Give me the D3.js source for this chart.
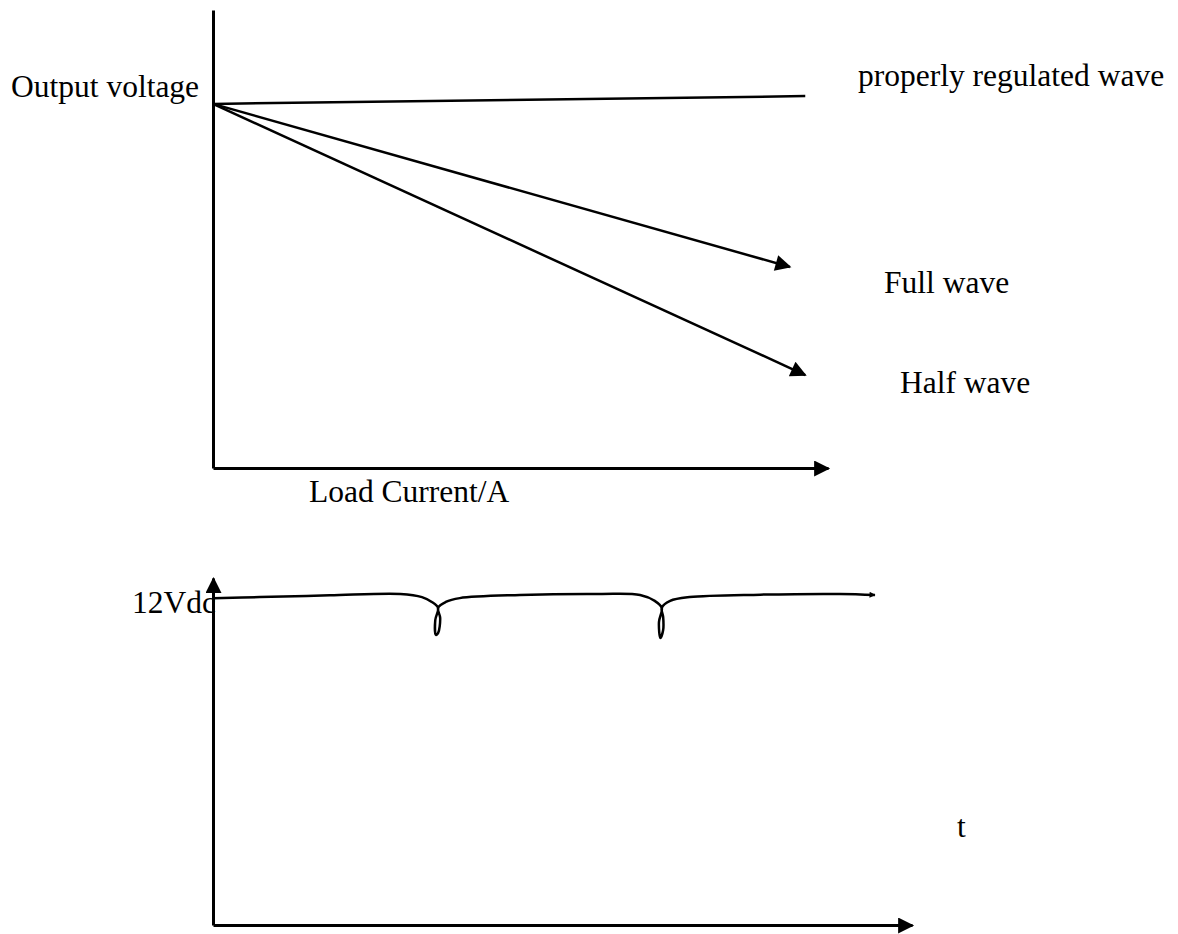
<!DOCTYPE html>
<html>
<head>
<meta charset="utf-8">
<script src="https://cdn.jsdelivr.net/npm/d3@7"></script>
<style>
  body { margin: 0; background: #fff; }
  text { font-family: "Liberation Serif", "Times New Roman", serif; fill: #000; }
</style>
</head>
<body>
<div id="chart"></div>
<script>
// top chart: output voltage vs load current (arbitrary 0-100 units)
var regulated = [[0, 79.5], [96.3, 81.2]];
var fullWave = [[0, 79.5], [93.8, 43.9]];
var halfWave = [[0, 79.5], [96.3, 20.3]];

// bottom chart: 12Vdc output with ripple dips (time, voltage units 0-100)
var ripple = [
    [0, 94.2], [6.7, 94.5], [16.7, 95.0], [26.8, 95.4], [29.9, 94.5], [31.3, 93.1], [32.2, 91.4],
    [31.8, 87.9], [31.9, 83.6], [32.2, 84.1], [32.5, 88.5], [32.2, 91.4],
    [33.3, 93.1], [35.3, 94.2], [43.9, 95.1], [55.4, 95.4], [61.1, 95.1], [63.2, 93.4], [64.2, 91.4],
    [63.8, 87.3], [64.0, 82.7], [64.4, 85.0], [64.4, 88.8], [64.2, 91.4],
    [65.4, 93.4], [68.2, 94.5], [78.3, 95.2], [89.7, 95.4], [94.7, 95.1]
];

var topLabels = [
    {text: "Output voltage", x: 11, y: 97},
    {text: "properly regulated wave", x: 858, y: 86},
    {text: "Full wave", x: 884, y: 293},
    {text: "Half wave", x: 900, y: 393},
    {text: "Load Current/A", x: 309, y: 502}
];
var bottomLabels = [
    {text: "12Vdc", x: 132, y: 613},
    {text: "t", x: 957, y: 837}
];

var svg = d3.select("#chart").append("svg")
    .attr("width", 1178)
    .attr("height", 934);

var defs = svg.append("defs");
defs.append("marker")
    .attr("id", "arrow")
    .attr("viewBox", "0 0 10 10")
    .attr("refX", 9).attr("refY", 5)
    .attr("markerUnits", "userSpaceOnUse")
    .attr("markerWidth", 22).attr("markerHeight", 16)
    .attr("orient", "auto")
    .append("path")
    .attr("d", "M0,0L10,5L0,10z")
    .attr("fill", "#000");
defs.append("marker")
    .attr("id", "tip")
    .attr("viewBox", "0 0 10 10")
    .attr("refX", 9).attr("refY", 5)
    .attr("markerUnits", "userSpaceOnUse")
    .attr("markerWidth", 10).attr("markerHeight", 6)
    .attr("orient", "auto")
    .append("path")
    .attr("d", "M0,0L10,5L0,10z")
    .attr("fill", "#000");

//top scales
var x1 = d3.scaleLinear().domain([0, 100]).range([213, 828]);
var y1 = d3.scaleLinear().domain([0, 100]).range([468, 10]);

var gx1 = svg.append("g")
    .attr("transform", "translate(0," + y1(0) + ")")
    .call(d3.axisBottom(x1).ticks(0).tickSizeOuter(0));
gx1.select(".domain").attr("stroke-width", 3).attr("marker-end", "url(#arrow)");

var gy1 = svg.append("g")
    .attr("transform", "translate(" + x1(0) + ",0)")
    .call(d3.axisLeft(y1).ticks(0).tickSizeOuter(0));
gy1.select(".domain").attr("stroke-width", 3);

var line1 = d3.line()
    .x(function (d) { return x1(d[0]); })
    .y(function (d) { return y1(d[1]); });

svg.append("path").datum(regulated)
    .attr("d", line1)
    .attr("fill", "none").attr("stroke", "#000").attr("stroke-width", 2.5);
[fullWave, halfWave].forEach(function (s) {
    svg.append("path").datum(s)
        .attr("d", line1)
        .attr("fill", "none").attr("stroke", "#000").attr("stroke-width", 2.5)
        .attr("marker-end", "url(#arrow)");
});

//bottom scales
var x2 = d3.scaleLinear().domain([0, 100]).range([213, 912]);
var y2 = d3.scaleLinear().domain([0, 100]).range([925, 578]);

var gx2 = svg.append("g")
    .attr("transform", "translate(0," + y2(0) + ")")
    .call(d3.axisBottom(x2).ticks(0).tickSizeOuter(0));
gx2.select(".domain").attr("stroke-width", 3).attr("marker-end", "url(#arrow)");

var gy2 = svg.append("g")
    .attr("transform", "translate(" + x2(0) + ",0)")
    .call(d3.axisLeft(y2).ticks(0).tickSizeOuter(0));
gy2.select(".domain").attr("stroke-width", 3).attr("marker-end", "url(#arrow)");

var line2 = d3.line()
    .x(function (d) { return x2(d[0]); })
    .y(function (d) { return y2(d[1]); })
    .curve(d3.curveCatmullRom.alpha(0.5));

svg.append("path").datum(ripple)
    .attr("d", line2)
    .attr("fill", "none").attr("stroke", "#000").attr("stroke-width", 2.5)
    .attr("marker-end", "url(#tip)");

svg.selectAll("text.lbl")
    .data(topLabels.concat(bottomLabels))
    .enter()
    .append("text")
    .attr("class", "lbl")
    .attr("x", function (d) { return d.x; })
    .attr("y", function (d) { return d.y; })
    .attr("font-size", 31.5)
    .text(function (d) { return d.text; });
</script>
</body>
</html>
